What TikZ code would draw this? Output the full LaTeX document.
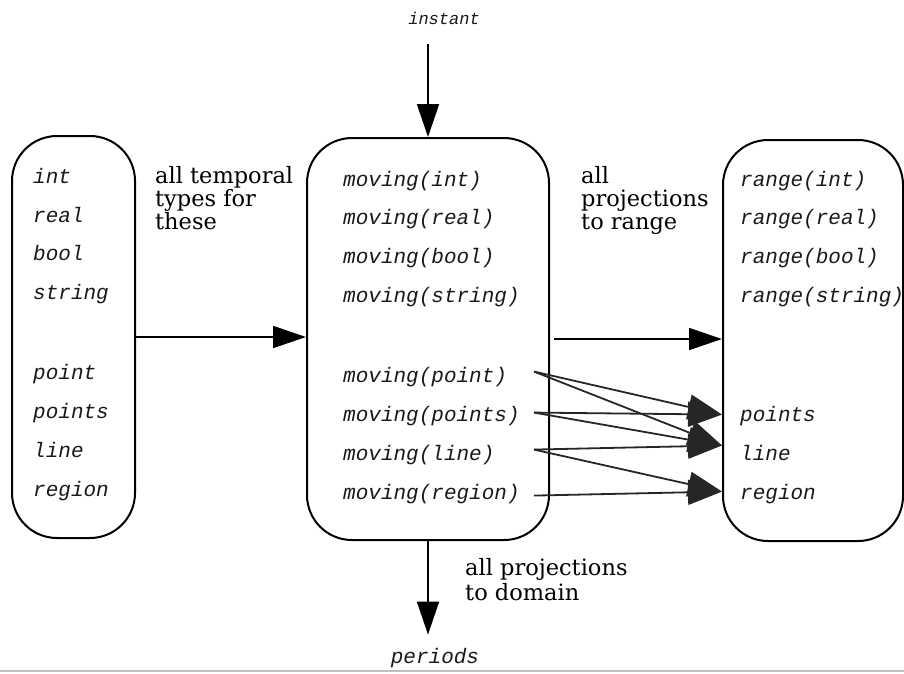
\documentclass[tikz,border=0pt]{standalone}
\usepackage{fontspec}
\setmainfont{DejaVu Serif}
\newfontfamily\typefont{Liberation Mono}
\usetikzlibrary{arrows.meta,calc}

% label and type-name fonts
\newcommand\lblfont{\fontsize{22.5}{23}\selectfont\lineskiplimit=-40pt\relax}
\newcommand\tyfont{\typefont\itshape\fontsize{21}{25}\selectfont}

\tikzset{
  typebox/.style={draw, line width=2pt, rounded corners=45pt, inner sep=0pt},
  tyname/.style={anchor=base west, inner sep=0pt, font=\tyfont, text=black!90},
  lbl/.style={anchor=north west, inner sep=0pt, align=left, font=\lblfont},
  arr/.style={line width=1.8pt, -{Triangle[length=33pt,width=22pt]}},
  proj/.style={line width=1.8pt, black!85, -{Triangle[length=34pt,width=25pt]}},
}

\begin{document}
\begin{tikzpicture}[x=1pt,y=-1pt]
\useasboundingbox (0,0) rectangle (904,673);

% three groups of types
\node[typebox, minimum width=123pt, minimum height=402pt] (lbox) at (73.5,337) {};
\node[typebox, minimum width=242pt, minimum height=402pt] (mbox) at (428,339) {};
\node[typebox, minimum width=180pt, minimum height=401pt] (rbox) at (813,340.5) {};

% base types
\node[tyname] (lint)    at (33,183) {int};
\node[tyname] (lreal)   at (33,222) {real};
\node[tyname] (lbool)   at (33,260) {bool};
\node[tyname] (lstring) at (33,299) {string};
\node[tyname] (lpoint)  at (33,379) {point};
\node[tyname] (lpoints) at (33,418) {points};
\node[tyname] (lline)   at (33,457) {line};
\node[tyname] (lregion) at (33,496) {region};

% temporal types
\node[tyname] (mint)    at (343,186) {moving(int)};
\node[tyname] (mreal)   at (343,224) {moving(real)};
\node[tyname] (mbool)   at (343,263) {moving(bool)};
\node[tyname] (mstring) at (343,302) {moving(string)};
\node[tyname] (mpoint)  at (343,382) {moving(point)};
\node[tyname] (mpoints) at (343,421) {moving(points)};
\node[tyname] (mline)   at (343,460) {moving(line)};
\node[tyname] (mregion) at (343,499) {moving(region)};

% range types
\node[tyname] (rint)    at (740,186) {range(int)};
\node[tyname] (rreal)   at (740,224) {range(real)};
\node[tyname] (rbool)   at (740,263) {range(bool)};
\node[tyname] (rstring) at (740,302) {range(string)};
\node[tyname] (rpoints) at (740,421) {points};
\node[tyname] (rline)   at (740,460) {line};
\node[tyname] (rregion) at (740,499) {region};

% instant and periods
\node[tyname, anchor=base, font=\typefont\itshape\fontsize{17}{20}\selectfont] (instant) at (444,24) {instant};
\node[tyname, anchor=base] (periods) at (435,663) {periods};

% explanatory labels
\node[lbl] (ltemporal) at (155,166) {all temporal\\types for\\these};
\node[lbl] (lrange)    at (581,166) {all\\projections\\to range};
\node[lbl, font=\fontsize{22.5}{25}\selectfont] (ldomain) at (465,558) {all projections\\to domain};

% main arrows
\draw[arr] (lbox.east) -- (lbox.east -| mbox.west);
\draw[arr] ([xshift=4pt]mbox.east) -- (mbox.east -| rbox.west);
\draw[arr] ([yshift=-20pt]instant.south -| mbox.north) -- (mbox.north);
\draw[arr] (mbox.south) -- ([yshift=13pt]periods.north -| mbox.south);

% projection arrows for the spatial types
\coordinate (spoint)  at ($(mpoint.east -| mbox.east)+(-16,-5)$);
\coordinate (spoints) at ($(mpoints.east -| mbox.east)+(-16,-3)$);
\coordinate (sline)   at ($(mline.east -| mbox.east)+(-16,-5)$);
\coordinate (sregion) at ($(mregion.east -| mbox.east)+(-16,2)$);
\coordinate (tpoints) at ($(rpoints.west -| rbox.west)+(0,-1)$);
\coordinate (tline)   at ($(rline.west -| rbox.west)+(0,-7)$);
\coordinate (tregion) at ($(rregion.west -| rbox.west)+(0,-2)$);

\draw[proj] (spoint)  -- (tpoints);
\draw[proj] (spoint)  -- (tline);
\draw[proj] (spoints) -- (tpoints);
\draw[proj] (spoints) -- (tline);
\draw[proj] (sline)   -- (tline);
\draw[proj] (sline)   -- (tregion);
\draw[proj] (sregion) -- (tregion);

% bottom rule
\draw[black!25, line width=1.2pt] (0,671) -- (904,671);
\end{tikzpicture}
\end{document}
